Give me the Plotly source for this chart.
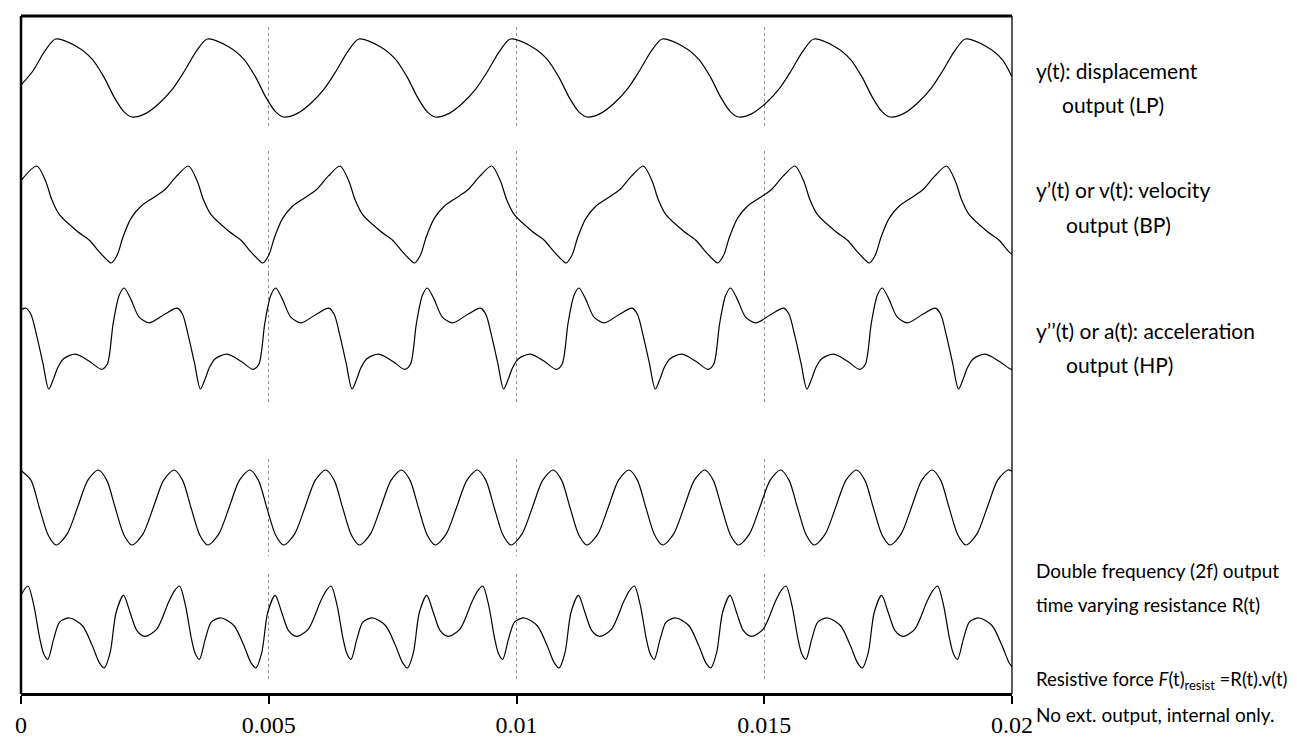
import plotly.graph_objects as go

# ---------------- data (time in seconds, outputs in normalised units) ----------------
t_disp = [0.0, 0.00024, 0.00048,
          0.00070, 0.00112, 0.00144, 0.00168, 0.00188, 0.00208, 0.00224, 0.00250, 0.00278, 0.00306, 0.00330, 0.00354,
          0.00376, 0.00418, 0.00450, 0.00474, 0.00494, 0.00514, 0.00530, 0.00556, 0.00584, 0.00612, 0.00636, 0.00660,
          0.00682, 0.00724, 0.00756, 0.00780, 0.00800, 0.00820, 0.00836, 0.00862, 0.00890, 0.00918, 0.00942, 0.00966,
          0.00988, 0.01030, 0.01062, 0.01086, 0.01106, 0.01126, 0.01142, 0.01168, 0.01196, 0.01224, 0.01248, 0.01272,
          0.01294, 0.01336, 0.01368, 0.01392, 0.01412, 0.01432, 0.01448, 0.01474, 0.01502, 0.01530, 0.01554, 0.01578,
          0.01600, 0.01642, 0.01674, 0.01698, 0.01718, 0.01738, 0.01754, 0.01780, 0.01808, 0.01836, 0.01860, 0.01884,
          0.01906, 0.01948, 0.01980, 0.02000]
y_disp = [-0.18, 0.18, 0.69,
          1.00, 0.81, 0.48, 0.01, -0.49, -0.87, -1.00, -0.92, -0.66, -0.28, 0.18, 0.69,
          1.00, 0.81, 0.48, 0.01, -0.49, -0.87, -1.00, -0.92, -0.66, -0.28, 0.18, 0.69,
          1.00, 0.81, 0.48, 0.01, -0.49, -0.87, -1.00, -0.92, -0.66, -0.28, 0.18, 0.69,
          1.00, 0.81, 0.48, 0.01, -0.49, -0.87, -1.00, -0.92, -0.66, -0.28, 0.18, 0.69,
          1.00, 0.81, 0.48, 0.01, -0.49, -0.87, -1.00, -0.92, -0.66, -0.28, 0.18, 0.69,
          1.00, 0.81, 0.48, 0.01, -0.49, -0.87, -1.00, -0.92, -0.66, -0.28, 0.18, 0.69,
          1.00, 0.81, 0.48, 0.03]

t_vel = [0.0,
         0.00032, 0.00050, 0.00062, 0.00078, 0.00114, 0.00138, 0.00158, 0.00174, 0.00182, 0.00194, 0.00206, 0.00222, 0.00242, 0.00266, 0.00290, 0.00314,
         0.00338, 0.00356, 0.00368, 0.00384, 0.00420, 0.00444, 0.00464, 0.00480, 0.00488, 0.00500, 0.00512, 0.00528, 0.00548, 0.00572, 0.00596, 0.00620,
         0.00644, 0.00662, 0.00674, 0.00690, 0.00726, 0.00750, 0.00770, 0.00786, 0.00794, 0.00806, 0.00818, 0.00834, 0.00854, 0.00878, 0.00902, 0.00926,
         0.00950, 0.00968, 0.00980, 0.00996, 0.01032, 0.01056, 0.01076, 0.01092, 0.01100, 0.01112, 0.01124, 0.01140, 0.01160, 0.01184, 0.01208, 0.01232,
         0.01256, 0.01274, 0.01286, 0.01302, 0.01338, 0.01362, 0.01382, 0.01398, 0.01406, 0.01418, 0.01430, 0.01446, 0.01466, 0.01490, 0.01514, 0.01538,
         0.01562, 0.01580, 0.01592, 0.01608, 0.01644, 0.01668, 0.01688, 0.01704, 0.01712, 0.01724, 0.01736, 0.01752, 0.01772, 0.01796, 0.01820, 0.01844,
         0.01868, 0.01886, 0.01898, 0.01914, 0.01950, 0.01974, 0.01994, 0.02000]
y_vel = [0.70,
         1.00, 0.68, 0.31, -0.01, -0.35, -0.53, -0.77, -0.94, -1.00, -0.84, -0.46, -0.08, 0.17, 0.34, 0.51, 0.79,
         1.00, 0.68, 0.31, -0.01, -0.35, -0.53, -0.77, -0.94, -1.00, -0.84, -0.46, -0.08, 0.17, 0.34, 0.51, 0.79,
         1.00, 0.68, 0.31, -0.01, -0.35, -0.53, -0.77, -0.94, -1.00, -0.84, -0.46, -0.08, 0.17, 0.34, 0.51, 0.79,
         1.00, 0.68, 0.31, -0.01, -0.35, -0.53, -0.77, -0.94, -1.00, -0.84, -0.46, -0.08, 0.17, 0.34, 0.51, 0.79,
         1.00, 0.68, 0.31, -0.01, -0.35, -0.53, -0.77, -0.94, -1.00, -0.84, -0.46, -0.08, 0.17, 0.34, 0.51, 0.79,
         1.00, 0.68, 0.31, -0.01, -0.35, -0.53, -0.77, -0.94, -1.00, -0.84, -0.46, -0.08, 0.17, 0.34, 0.51, 0.79,
         1.00, 0.68, 0.31, -0.01, -0.35, -0.53, -0.77, -0.82]

t_acc = [0.0, 0.00010, 0.00020, 0.00032, 0.00044,
         0.00056, 0.00066, 0.00074, 0.00086, 0.00110, 0.00138, 0.00162, 0.00174, 0.00186, 0.00198, 0.00208, 0.00222, 0.00238, 0.00259, 0.00290, 0.00315, 0.00326, 0.00338, 0.00350,
         0.00362, 0.00372, 0.00380, 0.00392, 0.00416, 0.00444, 0.00468, 0.00480, 0.00492, 0.00504, 0.00514, 0.00528, 0.00544, 0.00565, 0.00596, 0.00621, 0.00632, 0.00644, 0.00656,
         0.00668, 0.00678, 0.00686, 0.00698, 0.00722, 0.00750, 0.00774, 0.00786, 0.00798, 0.00810, 0.00820, 0.00834, 0.00850, 0.00871, 0.00902, 0.00927, 0.00938, 0.00950, 0.00962,
         0.00974, 0.00984, 0.00992, 0.01004, 0.01028, 0.01056, 0.01080, 0.01092, 0.01104, 0.01116, 0.01126, 0.01140, 0.01156, 0.01177, 0.01208, 0.01233, 0.01244, 0.01256, 0.01268,
         0.01280, 0.01290, 0.01298, 0.01310, 0.01334, 0.01362, 0.01386, 0.01398, 0.01410, 0.01422, 0.01432, 0.01446, 0.01462, 0.01483, 0.01514, 0.01539, 0.01550, 0.01562, 0.01574,
         0.01586, 0.01596, 0.01604, 0.01616, 0.01640, 0.01668, 0.01692, 0.01704, 0.01716, 0.01728, 0.01738, 0.01752, 0.01768, 0.01789, 0.01820, 0.01845, 0.01856, 0.01868, 0.01880,
         0.01892, 0.01902, 0.01910, 0.01922, 0.01946, 0.01974, 0.01998, 0.02000]
y_acc = [0.57, 0.60, 0.48, 0.04, -0.48,
         -1.00, -0.79, -0.58, -0.40, -0.31, -0.45, -0.61, -0.51, 0.30, 0.85, 1.00, 0.77, 0.43, 0.31, 0.48, 0.60, 0.48, 0.04, -0.48,
         -1.00, -0.79, -0.58, -0.40, -0.31, -0.45, -0.61, -0.51, 0.30, 0.85, 1.00, 0.77, 0.43, 0.31, 0.48, 0.60, 0.48, 0.04, -0.48,
         -1.00, -0.79, -0.58, -0.40, -0.31, -0.45, -0.61, -0.51, 0.30, 0.85, 1.00, 0.77, 0.43, 0.31, 0.48, 0.60, 0.48, 0.04, -0.48,
         -1.00, -0.79, -0.58, -0.40, -0.31, -0.45, -0.61, -0.51, 0.30, 0.85, 1.00, 0.77, 0.43, 0.31, 0.48, 0.60, 0.48, 0.04, -0.48,
         -1.00, -0.79, -0.58, -0.40, -0.31, -0.45, -0.61, -0.51, 0.30, 0.85, 1.00, 0.77, 0.43, 0.31, 0.48, 0.60, 0.48, 0.04, -0.48,
         -1.00, -0.79, -0.58, -0.40, -0.31, -0.45, -0.61, -0.51, 0.30, 0.85, 1.00, 0.77, 0.43, 0.31, 0.48, 0.60, 0.48, 0.04, -0.48,
         -1.00, -0.79, -0.58, -0.40, -0.31, -0.45, -0.61, -0.60]

t_res = [0.0, 0.00020, 0.00037, 0.00055, 0.00071, 0.00093, 0.00114, 0.00135,
         0.00156, 0.00173, 0.00190, 0.00208, 0.00224, 0.00246, 0.00267, 0.00288,
         0.00309, 0.00326, 0.00343, 0.00361, 0.00377, 0.00399, 0.00420, 0.00441,
         0.00462, 0.00479, 0.00496, 0.00514, 0.00530, 0.00552, 0.00573, 0.00594,
         0.00615, 0.00632, 0.00649, 0.00667, 0.00683, 0.00705, 0.00726, 0.00747,
         0.00768, 0.00785, 0.00802, 0.00820, 0.00836, 0.00858, 0.00879, 0.00900,
         0.00921, 0.00938, 0.00955, 0.00973, 0.00989, 0.01011, 0.01032, 0.01053,
         0.01074, 0.01091, 0.01108, 0.01126, 0.01142, 0.01164, 0.01185, 0.01206,
         0.01227, 0.01244, 0.01261, 0.01279, 0.01295, 0.01317, 0.01338, 0.01359,
         0.01380, 0.01397, 0.01414, 0.01432, 0.01448, 0.01470, 0.01491, 0.01512,
         0.01533, 0.01550, 0.01567, 0.01585, 0.01601, 0.01623, 0.01644, 0.01665,
         0.01686, 0.01703, 0.01720, 0.01738, 0.01754, 0.01776, 0.01797, 0.01818,
         0.01839, 0.01856, 0.01873, 0.01891, 0.01907, 0.01929, 0.01950, 0.01971,
         0.01992, 0.02000]
y_res = [0.99, 0.73, 0.0, -0.74, -1.0, -0.71, 0.0, 0.73,
         1.0, 0.73, 0.0, -0.74, -1.0, -0.71, 0.0, 0.73,
         1.0, 0.73, 0.0, -0.74, -1.0, -0.71, 0.0, 0.73,
         1.0, 0.73, 0.0, -0.74, -1.0, -0.71, 0.0, 0.73,
         1.0, 0.73, 0.0, -0.74, -1.0, -0.71, 0.0, 0.73,
         1.0, 0.73, 0.0, -0.74, -1.0, -0.71, 0.0, 0.73,
         1.0, 0.73, 0.0, -0.74, -1.0, -0.71, 0.0, 0.73,
         1.0, 0.73, 0.0, -0.74, -1.0, -0.71, 0.0, 0.73,
         1.0, 0.73, 0.0, -0.74, -1.0, -0.71, 0.0, 0.73,
         1.0, 0.73, 0.0, -0.74, -1.0, -0.71, 0.0, 0.73,
         1.0, 0.73, 0.0, -0.74, -1.0, -0.71, 0.0, 0.73,
         1.0, 0.73, 0.0, -0.74, -1.0, -0.71, 0.0, 0.73,
         1.0, 0.73, 0.0, -0.74, -1.0, -0.71, 0.0, 0.73,
         1.0, 0.97]

t_force = [0.0,
           0.00014, 0.00026, 0.00038, 0.00046, 0.00054, 0.00066, 0.00078, 0.00098, 0.00124, 0.00144, 0.00158, 0.00168, 0.00180, 0.00192, 0.00207, 0.00220, 0.00234, 0.00250, 0.00274, 0.00298, 0.00310,
           0.00320, 0.00332, 0.00344, 0.00352, 0.00360, 0.00372, 0.00384, 0.00404, 0.00430, 0.00450, 0.00464, 0.00474, 0.00486, 0.00498, 0.00513, 0.00526, 0.00540, 0.00556, 0.00580, 0.00604, 0.00616,
           0.00626, 0.00638, 0.00650, 0.00658, 0.00666, 0.00678, 0.00690, 0.00710, 0.00736, 0.00756, 0.00770, 0.00780, 0.00792, 0.00804, 0.00819, 0.00832, 0.00846, 0.00862, 0.00886, 0.00910, 0.00922,
           0.00932, 0.00944, 0.00956, 0.00964, 0.00972, 0.00984, 0.00996, 0.01016, 0.01042, 0.01062, 0.01076, 0.01086, 0.01098, 0.01110, 0.01125, 0.01138, 0.01152, 0.01168, 0.01192, 0.01216, 0.01228,
           0.01238, 0.01250, 0.01262, 0.01270, 0.01278, 0.01290, 0.01302, 0.01322, 0.01348, 0.01368, 0.01382, 0.01392, 0.01404, 0.01416, 0.01431, 0.01444, 0.01458, 0.01474, 0.01498, 0.01522, 0.01534,
           0.01544, 0.01556, 0.01568, 0.01576, 0.01584, 0.01596, 0.01608, 0.01628, 0.01654, 0.01674, 0.01688, 0.01698, 0.01710, 0.01722, 0.01737, 0.01750, 0.01764, 0.01780, 0.01804, 0.01828, 0.01840,
           0.01850, 0.01862, 0.01874, 0.01882, 0.01890, 0.01902, 0.01914, 0.01934, 0.01960, 0.01980, 0.01994, 0.02000]
y_force = [0.78,
           1.00, 0.52, -0.29, -0.66, -0.79, -0.29, 0.12, 0.22, 0.03, -0.46, -0.87, -1.00, -0.62, 0.36, 0.77, 0.36, -0.09, -0.23, -0.05, 0.61, 0.89,
           1.00, 0.52, -0.29, -0.66, -0.79, -0.29, 0.12, 0.22, 0.03, -0.46, -0.87, -1.00, -0.62, 0.36, 0.77, 0.36, -0.09, -0.23, -0.05, 0.61, 0.89,
           1.00, 0.52, -0.29, -0.66, -0.79, -0.29, 0.12, 0.22, 0.03, -0.46, -0.87, -1.00, -0.62, 0.36, 0.77, 0.36, -0.09, -0.23, -0.05, 0.61, 0.89,
           1.00, 0.52, -0.29, -0.66, -0.79, -0.29, 0.12, 0.22, 0.03, -0.46, -0.87, -1.00, -0.62, 0.36, 0.77, 0.36, -0.09, -0.23, -0.05, 0.61, 0.89,
           1.00, 0.52, -0.29, -0.66, -0.79, -0.29, 0.12, 0.22, 0.03, -0.46, -0.87, -1.00, -0.62, 0.36, 0.77, 0.36, -0.09, -0.23, -0.05, 0.61, 0.89,
           1.00, 0.52, -0.29, -0.66, -0.79, -0.29, 0.12, 0.22, 0.03, -0.46, -0.87, -1.00, -0.62, 0.36, 0.77, 0.36, -0.09, -0.23, -0.05, 0.61, 0.89,
           1.00, 0.52, -0.29, -0.66, -0.79, -0.29, 0.12, 0.22, 0.03, -0.46, -0.87, -0.97]

tick_vals = [0, 0.005, 0.01, 0.015, 0.02]
tick_text = ["0", "0.005", "0.01", "0.015", "0.02"]

label_lines = [
    ["y(t): displacement", "output (LP)"],
    ["y\u2019(t) or v(t): velocity", "output (BP)"],
    ["y\u2019\u2019(t) or a(t): acceleration", "output (HP)"],
    ["Double frequency (2f) output", "time varying resistance R(t)"],
    ["Resistive force <i>F</i>(t)<sub>resist</sub> =R(t).v(t)", "No ext. output, internal only."],
]

# ---------------- layout geometry (pixels) ----------------
W, H = 1297, 745
PL, PR, PT, PB = 7, 1004, 8, 686


def xp(px):
    return (px - PL) / (PR - PL)


def yp(py):
    return (PB - py) / (PB - PT)


# pixel rows (top, bottom) of +1 / -1 of each trace
bands = [(31, 109), (158, 255), (280, 381), (462, 537), (578, 660)]
PAD = 0.3

series = [(t_disp, y_disp), (t_vel, y_vel), (t_acc, y_acc), (t_res, y_res), (t_force, y_force)]

fig = go.Figure()
layout_axes = {}
for i, ((tx, vy), (top, bot)) in enumerate(zip(series, bands), start=1):
    h = (bot - top) / 2
    dom = [max(0.0, yp(bot + PAD * h)), min(1.0, yp(top - PAD * h))]
    name = "yaxis" if i == 1 else f"yaxis{i}"
    layout_axes[name] = dict(domain=dom, range=[-1 - PAD, 1 + PAD], visible=False, fixedrange=True)
    fig.add_trace(go.Scatter(
        x=tx, y=vy, mode="lines",
        line=dict(color="black", width=1.2, shape="spline", smoothing=0.8),
        yaxis="y" if i == 1 else f"y{i}", xaxis="x", showlegend=False, hoverinfo="skip",
    ))

fig.update_layout(**layout_axes)

# label positions (pixels): (x, y, font size) for each of the two lines of every label
TX = 1026
label_pos = [((TX, 62, 21), (TX + 26, 96, 21)),
             ((TX, 182, 21), (TX + 30, 216, 21)),
             ((TX, 322, 21), (TX + 30, 356, 21)),
             ((TX, 562, 19), (TX, 596, 19)),
             ((TX, 672, 18.5), (TX, 706, 19))]
annotations = []
for (l1, l2), ((x1, y1, s1), (x2, y2, s2)) in zip(label_lines, label_pos):
    for txt, px, py, fs in ((l1, x1, y1, s1), (l2, x2, y2, s2)):
        annotations.append(dict(
            text=txt, x=xp(px), y=yp(py), xref="paper", yref="paper",
            xanchor="left", yanchor="middle", showarrow=False,
            font=dict(family="Lato", size=fs, color="black"),
        ))

shapes = [
    dict(type="line", xref="paper", yref="paper", x0=0, x1=0, y0=0, y1=1,
         line=dict(color="black", width=2.5)),
    dict(type="line", xref="paper", yref="paper", x0=1, x1=1, y0=0, y1=1,
         line=dict(color="black", width=1.3)),
    dict(type="line", xref="paper", yref="paper", x0=0, x1=1, y0=1, y1=1,
         line=dict(color="black", width=3)),
]

fig.update_layout(
    width=W, height=H,
    margin=dict(l=PL, r=W - PR, t=PT, b=H - PB, pad=0),
    paper_bgcolor="white", plot_bgcolor="white",
    xaxis=dict(
        range=[0, 0.02], tickvals=tick_vals, ticktext=tick_text,
        anchor="free", position=0, ticklabeloverflow="allow",
        showgrid=True, gridcolor="#8c8c8c", griddash="dot", gridwidth=1,
        zeroline=False, showline=True, linecolor="black", linewidth=3,
        ticks="outside", ticklen=8, tickwidth=1.5, tickcolor="black",
        tickfont=dict(family="Liberation Serif", size=24, color="black"),
        fixedrange=True,
    ),
    annotations=annotations,
    shapes=shapes,
)

fig.write_html("out.html")
